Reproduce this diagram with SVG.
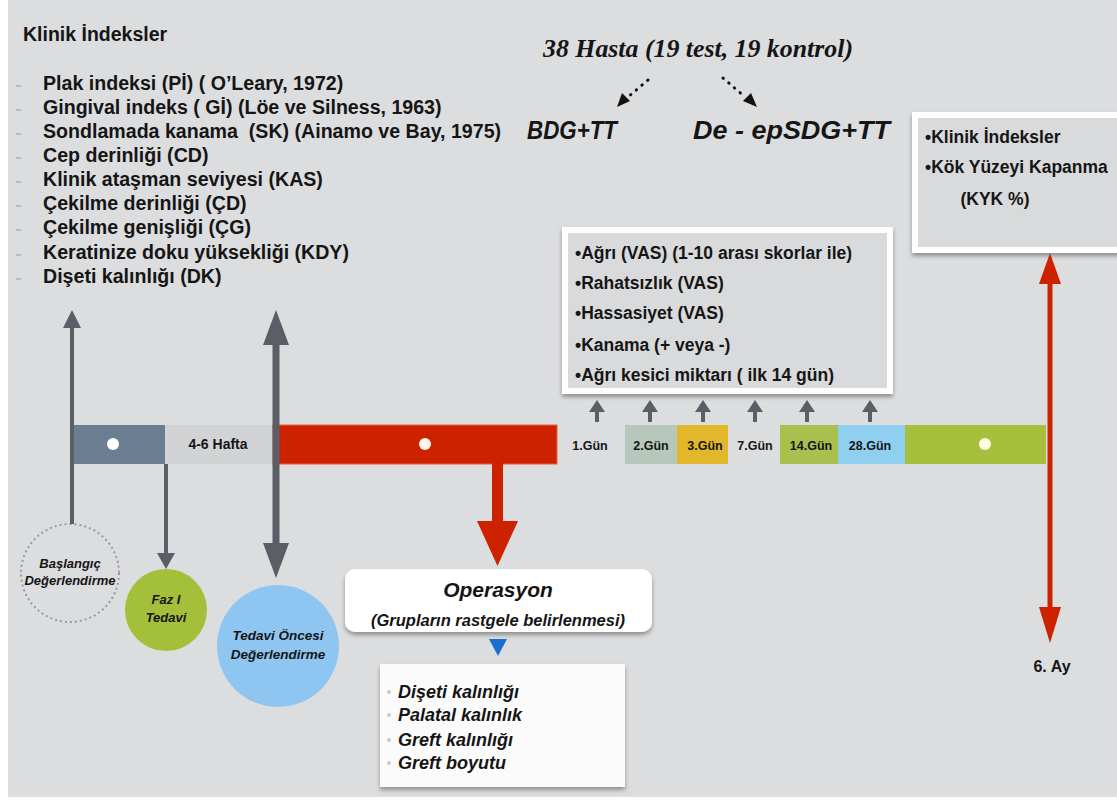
<svg xmlns="http://www.w3.org/2000/svg" width="1117" height="807" viewBox="0 0 1117 807">
<defs>
<style>
.t{font-family:'Liberation Sans',Arial,sans-serif;font-weight:bold;fill:#151515}
.bi{font-style:italic}
.c{text-anchor:middle}
.li{font-size:19.6px}
.vas{font-size:17.5px}
.day{font-size:12.5px;text-anchor:middle}
.gry{fill:#5a5e66}
.red{fill:#cc2200}
.box{fill:#d9dadc;stroke:#ffffff;stroke-width:6}
.dash{stroke:#b0b0b0;stroke-width:1.5}
.dot{fill:none;stroke:#111;stroke-width:3;stroke-linecap:round;stroke-dasharray:0.5 7}
</style>
<filter id="sh" x="-10%" y="-10%" width="120%" height="130%">
<feDropShadow dx="0" dy="3" stdDeviation="2" flood-color="#000" flood-opacity="0.35"/>
</filter>
<path id="upA" d="M0,-22 L8,-10 L2,-10 L2,0 L-2,0 L-2,-10 L-8,-10 Z"/>
</defs>
<rect x="0" y="0" width="1117" height="807" fill="#ffffff"/>
<rect x="8" y="0" width="1109" height="797" fill="#dcdddf"/>

<g id="klinik-indeksler">
<text class="t" x="23" y="41" font-size="19.5">Klinik İndeksler</text>
<g class="dash">
<line x1="16" y1="86" x2="21" y2="86"/><line x1="16" y1="110" x2="21" y2="110"/><line x1="16" y1="134" x2="21" y2="134"/>
<line x1="16" y1="158" x2="21" y2="158"/><line x1="16" y1="182" x2="21" y2="182"/><line x1="16" y1="206" x2="21" y2="206"/>
<line x1="16" y1="230" x2="21" y2="230"/><line x1="16" y1="255" x2="21" y2="255"/><line x1="16" y1="279" x2="21" y2="279"/>
</g>
<text class="t li" x="43" y="90">Plak indeksi (Pİ) ( O’Leary, 1972)</text>
<text class="t li" x="43" y="114">Gingival indeks ( Gİ) (Löe ve Silness, 1963)</text>
<text class="t li" x="43" y="138" xml:space="preserve">Sondlamada kanama  (SK) (Ainamo ve Bay, 1975)</text>
<text class="t li" x="43" y="162">Cep derinliği (CD)</text>
<text class="t li" x="43" y="186">Klinik ataşman seviyesi (KAS)</text>
<text class="t li" x="43" y="210">Çekilme derinliği (ÇD)</text>
<text class="t li" x="43" y="234">Çekilme genişliği (ÇG)</text>
<text class="t li" x="43" y="259">Keratinize doku yüksekliği (KDY)</text>
<text class="t li" x="43" y="283">Dişeti kalınlığı (DK)</text>
</g>

<g id="hasta">
<text x="543" y="57" font-family="'Liberation Serif','Times New Roman',serif" font-weight="bold" font-style="italic" font-size="26" fill="#151515" textLength="310" lengthAdjust="spacingAndGlyphs">38 Hasta (19 test, 19 kontrol)</text>
</g>
<g id="bdg">
<text class="t bi" x="527" y="139" font-size="26" textLength="90" lengthAdjust="spacingAndGlyphs">BDG+TT</text>
</g>
<g id="deep">
<text class="t bi" x="693" y="139" font-size="26" textLength="197" lengthAdjust="spacingAndGlyphs">De - epSDG+TT</text>
</g>

<g id="vas-box">
<rect class="box" x="565" y="230" width="325" height="161" filter="url(#sh)"/>
<text class="t vas" x="575" y="259">•Ağrı (VAS) (1-10 arası skorlar ile)</text>
<text class="t vas" x="575" y="289">•Rahatsızlık (VAS)</text>
<text class="t vas" x="575" y="319">•Hassasiyet (VAS)</text>
<text class="t vas" x="575" y="351">•Kanama (+ veya -)</text>
<text class="t vas" x="575" y="381">•Ağrı kesici miktarı ( ilk 14 gün)</text>
</g>

<g id="sonuc-box">
<rect class="box" x="915" y="115" width="215" height="135" filter="url(#sh)"/>
<text class="t vas" x="925" y="143">•Klinik İndeksler</text>
<text class="t vas" x="925" y="173">•Kök Yüzeyi Kapanma</text>
<text class="t vas c" x="995" y="205">(KYK %)</text>
</g>

<g id="timeline">
<rect x="73" y="425" width="92" height="39" fill="#6a7d91"/>
<rect x="165" y="425" width="108" height="39" fill="#d2d3d5"/>
<rect x="273" y="425" width="284" height="39" fill="#cc2200" stroke="#e8603a" stroke-width="1"/>
<rect x="625" y="425" width="52" height="39" fill="#b5c8bb"/>
<rect x="677" y="425" width="51" height="39" fill="#e3b72a"/>
<rect x="780" y="425" width="58" height="39" fill="#a9bf4e"/>
<rect x="838" y="425" width="67" height="39" fill="#8fd0f0"/>
<rect x="905" y="425" width="141" height="39" fill="#a6bf3d"/>
<circle cx="113" cy="444" r="6" fill="#ffffff"/>
<circle cx="425" cy="444" r="6" fill="#fff5e8"/>
<circle cx="985" cy="444" r="6" fill="#fffbe0"/>
<text class="t c" x="218" y="449" font-size="14" fill="#3a3a3a">4-6 Hafta</text>
<text class="t day" x="590" y="450" fill="#333">1.Gün</text>
<text class="t day" x="651" y="450" fill="#333">2.Gün</text>
<text class="t day" x="705" y="450" fill="#3a3000">3.Gün</text>
<text class="t day" x="755" y="450" fill="#333">7.Gün</text>
<text class="t day" x="811" y="450" fill="#2a3a10">14.Gün</text>
<text class="t day" x="870" y="450" fill="#1a3a5a">28.Gün</text>
</g>

<g id="baslangic">
<circle cx="70" cy="573" r="49" fill="none" stroke="#9a9a9a" stroke-width="2" stroke-dasharray="2 3"/>
<text class="t bi c" x="70" y="568" font-size="13" fill="#222">Başlangıç</text>
<text class="t bi c" x="70" y="585" font-size="13" fill="#222">Değerlendirme</text>
</g>
<g id="faz1">
<circle cx="166" cy="610" r="41" fill="#a4bf3a"/>
<text class="t bi c" x="166" y="604" font-size="13" fill="#1f2a10">Faz I</text>
<text class="t bi c" x="166" y="622" font-size="13" fill="#1f2a10">Tedavi</text>
</g>
<g id="tedavi-oncesi">
<circle cx="278" cy="646" r="61" fill="#8fc6f1"/>
<text class="t bi c" x="278" y="640" font-size="13.5" fill="#1e2838">Tedavi Öncesi</text>
<text class="t bi c" x="278" y="659" font-size="13.5" fill="#1e2838">Değerlendirme</text>
</g>

<g id="operasyon">
<rect x="345" y="569" width="307" height="63" rx="10" fill="#ffffff" filter="url(#sh)"/>
<text class="t bi c" x="498" y="597" font-size="21" fill="#cc2a10">Operasyon</text>
<text class="t bi c" x="498" y="626" font-size="16.5">(Grupların rastgele belirlenmesi)</text>
</g>

<g id="olcumler">
<rect x="380" y="664" width="245" height="123" fill="#fbfbfb" filter="url(#sh)"/>
<g fill="#cccccc"><circle cx="389" cy="692" r="2"/><circle cx="389" cy="715" r="2"/><circle cx="389" cy="740" r="2"/><circle cx="389" cy="763" r="2"/></g>
<text class="t bi" x="398" y="698" font-size="18">Dişeti kalınlığı</text>
<text class="t bi" x="398" y="721" font-size="18">Palatal kalınlık</text>
<text class="t bi" x="398" y="746" font-size="18">Greft kalınlığı</text>
<text class="t bi" x="398" y="769" font-size="18">Greft boyutu</text>
</g>

<g id="alti-ay">
<text class="t c" x="1052" y="672" font-size="16">6. Ay</text>
</g>

<g id="connectors">
<line class="dot" x1="648" y1="80" x2="628" y2="97"/>
<polygon points="617,107 622,93 630,101" fill="#111"/>
<line class="dot" x1="723" y1="78" x2="745" y2="97"/>
<polygon points="757,107 743,101 751,93" fill="#111"/>

<rect class="gry" x="70" y="326" width="4" height="198"/>
<polygon class="gry" points="72,310 63,328 81,328"/>
<rect class="gry" x="164" y="464" width="4" height="90"/>
<polygon class="gry" points="157,553 175,553 166,569"/>
<rect class="gry" x="272.5" y="340" width="7" height="205"/>
<polygon class="gry" points="276,310 263,345 289,345"/>
<polygon class="gry" points="263,543 289,543 276,578"/>

<rect class="red" x="492" y="463" width="11" height="60"/>
<polygon class="red" points="477,521 518,521 497.5,566"/>
<polygon points="489,639 507,639 498,656" fill="#1b6fd1"/>

<rect class="red" x="1047.5" y="280" width="5" height="330"/>
<polygon class="red" points="1050,253 1039,284 1061,284"/>
<polygon class="red" points="1039,607 1061,607 1050,643"/>

<g class="gry">
<use href="#upA" x="597" y="422"/><use href="#upA" x="650" y="422"/><use href="#upA" x="703" y="422"/>
<use href="#upA" x="755" y="422"/><use href="#upA" x="807" y="422"/><use href="#upA" x="870" y="422"/>
</g>
</g>
</svg>
